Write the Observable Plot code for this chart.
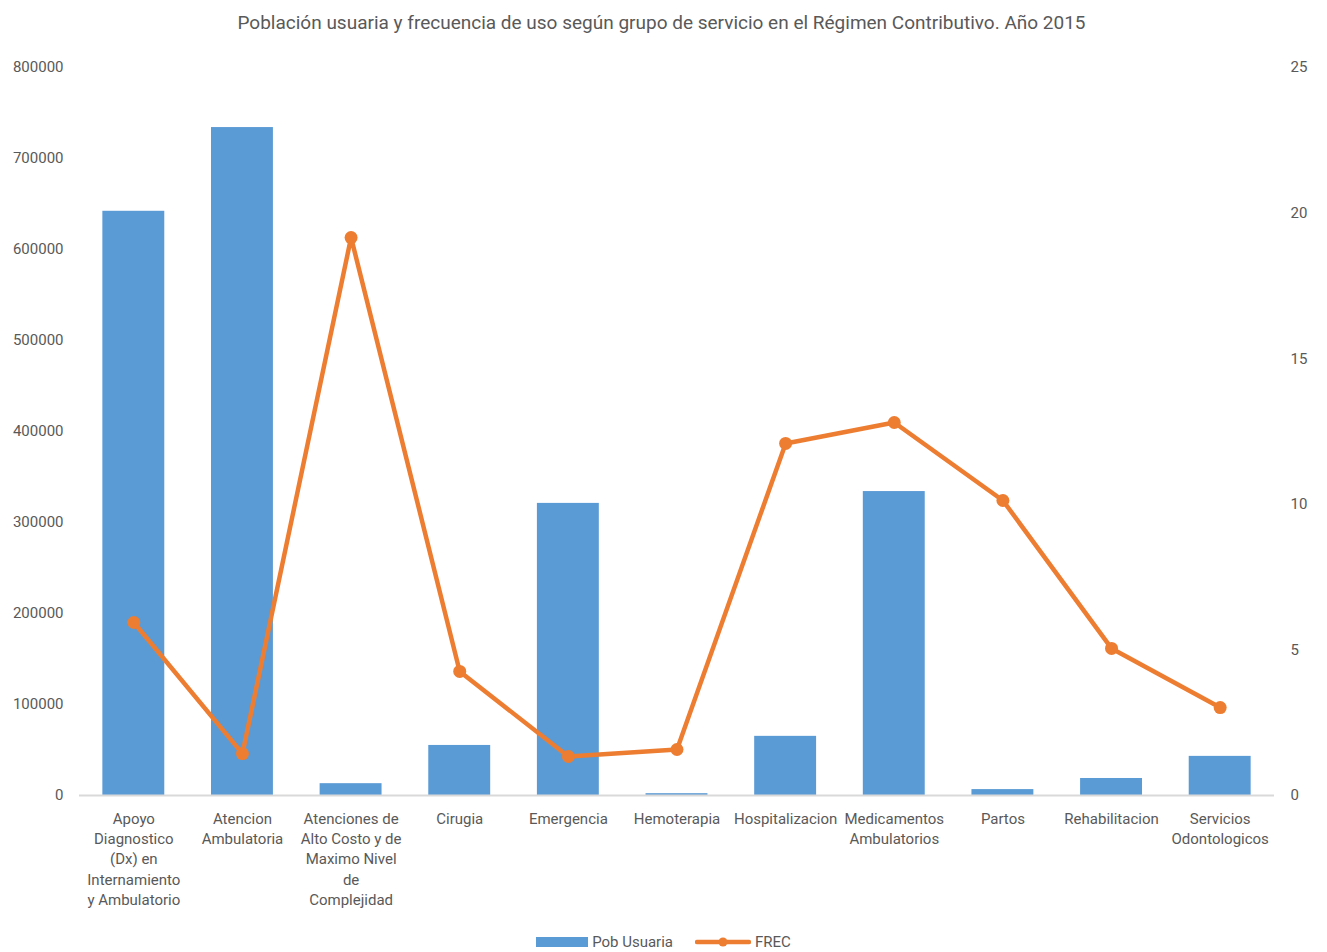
<!DOCTYPE html>
<html><head><meta charset="utf-8">
<script src="https://cdn.jsdelivr.net/npm/d3@7"></script>
<script src="https://cdn.jsdelivr.net/npm/@observablehq/plot@0.6"></script>
<style>
body{margin:0;background:#fff;font-family:Roboto,sans-serif;color:#595959;width:1327px;overflow:hidden;}
#title{height:40px;line-height:45px;text-align:center;font-size:19px;padding-right:4px;}
#chart svg{display:block;}
#legend{display:flex;justify-content:center;align-items:center;height:24px;font-size:15px;padding-left:0px;}
#legend .item{display:flex;align-items:center;}
</style></head><body>
<div id="title">Población usuaria y frecuencia de uso según grupo de servicio en el Régimen Contributivo. Año 2015</div>
<div id="chart"></div>
<div id="legend">
  <div class="item"><span style="display:inline-block;width:52px;height:10px;background:#5B9BD5;margin-right:4px"></span>Pob Usuaria</div>
  <div class="item" style="margin-left:22px"><svg width="56" height="14" style="margin-right:4px"><line x1="2" y1="7" x2="54" y2="7" stroke="#ED7D31" stroke-width="4.5" stroke-linecap="round"/><circle cx="28" cy="7" r="4.5" fill="#ED7D31"/></svg>FREC</div>
</div>
<script>
const categories = ["Apoyo Diagnostico (Dx) en Internamiento y Ambulatorio","Atencion Ambulatoria","Atenciones de Alto Costo y de Maximo Nivel de Complejidad","Cirugia","Emergencia","Hemoterapia","Hospitalizacion","Medicamentos Ambulatorios","Partos","Rehabilitacion","Servicios Odontologicos"];
const tickLabels = ["Apoyo\nDiagnostico\n(Dx) en\nInternamiento\ny Ambulatorio","Atencion\nAmbulatoria","Atenciones de\nAlto Costo y de\nMaximo Nivel\nde\nComplejidad","Cirugia","Emergencia","Hemoterapia","Hospitalizacion","Medicamentos\nAmbulatorios","Partos","Rehabilitacion","Servicios\nOdontologicos"];
const pobUsuaria = [642000, 734000, 13000, 55000, 321000, 2000, 65000, 334000, 6500, 18700, 43000];
const frec = [5.94, 1.44, 19.16, 4.26, 1.34, 1.58, 12.09, 12.81, 10.13, 5.05, 3.02];
const leftTicks = [0,100000,200000,300000,400000,500000,600000,700000,800000];
const rightTicks = [0,5,10,15,20,25];

const leftMax = 800000, rightMax = 25;
const k = leftMax / rightMax;
const data = categories.map((c, i) => ({cat: c, pob: pobUsuaria[i], frec: frec[i]}));

const plot = Plot.plot({
  width: 1327, height: 890,
  marginTop: 27, marginBottom: 135, marginLeft: 79, marginRight: 53,
  style: {fontFamily: "Roboto, sans-serif", fontSize: "15px", color: "#595959", background: "#fff"},
  x: {domain: categories, paddingInner: 0.43, paddingOuter: 0.215, round: false, axis: null, label: null},
  y: {domain: [0, leftMax], axis: null, label: null},
  marks: [
    Plot.axisY({anchor: "left", label: null, ticks: leftTicks, tickSize: 0, tickPadding: 16, tickFormat: d => String(d), fontSize: 15}),
    Plot.axisY({anchor: "right", label: null, ticks: rightTicks.map(v => v * k), tickSize: 0, tickPadding: 16, tickFormat: d => String(Math.round(d / k)), fontSize: 15}),
    Plot.barY(data, {x: "cat", y: "pob", fill: "#5B9BD5"}),
    Plot.ruleY([0], {stroke: "#d9d9d9", strokeWidth: 2}),
    Plot.axisX({anchor: "bottom", label: null, tickSize: 0, tickPadding: 14, tickFormat: d => tickLabels[categories.indexOf(d)], lineHeight: 1.35, fontSize: 15}),
    Plot.line(data, {x: "cat", y: d => d.frec * k, stroke: "#ED7D31", strokeWidth: 4.5, strokeLinejoin: "round"}),
    Plot.dot(data, {x: "cat", y: d => d.frec * k, r: 6.5, fill: "#ED7D31"})
  ]
});
document.getElementById("chart").appendChild(plot);
</script>
</body></html>
